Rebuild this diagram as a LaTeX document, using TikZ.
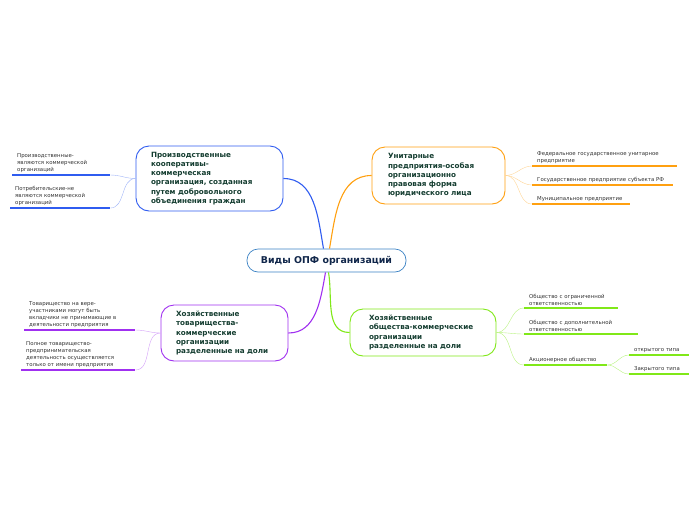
\documentclass[tikz,border=0pt]{standalone}
\usepackage{fontspec}
\setmainfont{DejaVu Sans}
\usetikzlibrary{positioning}
\definecolor{ctrcol}{HTML}{3B82C4}
\definecolor{bluecol}{HTML}{2F5CF0}
\definecolor{orcol}{HTML}{FFA010}
\definecolor{purcol}{HTML}{A030F0}
\definecolor{grcol}{HTML}{80E818}
\definecolor{boxtxt}{HTML}{143D30}
\definecolor{ctrtxt}{HTML}{10264A}
\definecolor{leaftxt}{HTML}{333333}
\begin{document}
\begin{tikzpicture}[x=1pt,y=1pt,
    box/.style={draw,line width=0.9pt,rounded corners=13pt,fill=white,align=left,
      font=\fontsize{7.2}{9.2}\selectfont\bfseries,text=boxtxt},
    ctrbox/.style={draw=ctrcol,line width=0.7pt,rounded corners=11pt,fill=white,
      minimum width=159pt,minimum height=23pt,font=\fontsize{9.4}{11}\selectfont\bfseries,text=ctrtxt},
    leaf/.style={anchor=south west,align=left,inner xsep=5pt,inner ysep=2pt,
      font=\fontsize{5.4}{6.9}\selectfont,text=leaftxt},
    link/.style={line width=1.1pt}]
  \useasboundingbox (0,0) rectangle (696,-520);
  % centre
  \node[ctrbox] (ctr) at (326.5,-260.5) {Виды ОПФ организаций};
  % main topics
  \node[box,draw=bluecol,minimum width=147pt,minimum height=65pt,text width=117pt,inner xsep=15pt]
    (koop) at (209.5,-178.5) {Производственные\\кооперативы-\\коммерческая\\организация, созданная\\путем добровольного\\объединения граждан};
  \node[box,draw=orcol,minimum width=133pt,minimum height=57pt,text width=101pt,inner xsep=16pt]
    (unit) at (438.5,-175.5) {Унитарные\\предприятия-особая\\организационно\\правовая форма\\юридического лица};
  \node[box,draw=purcol,minimum width=127pt,minimum height=56pt,text width=97pt,inner xsep=15pt]
    (tov) at (224.5,-333) {Хозяйственные\\товарищества-\\коммерческие\\организации\\разделенные на доли};
  \node[box,draw=grcol,minimum width=146pt,minimum height=47pt,text width=108pt,inner xsep=19pt]
    (obsch) at (423,-332.5) {Хозяйственные\\общества-коммерческие\\организации\\разделенные на доли};
  \draw[link,bluecol] (koop.east) to[out=0,in=100] ([xshift=-3pt]ctr.north);
  \draw[link,orcol] ([xshift=3pt]ctr.north) to[out=80,in=180] (unit.west);
  \draw[link,purcol] ([xshift=-1pt]ctr.south) to[out=-100,in=0] (tov.east);
  \draw[link,grcol] ([xshift=2pt]ctr.south) to[out=-80,in=180] (obsch.west);
  % cooperatives
  \node[leaf,text width=88pt] (proizv) at (12,-175) {Производственные-\\являются коммерческой\\организаций};
  \node[leaf,text width=90pt] (potreb) at (10,-208) {Потребительские-не\\являются коммерческой\\организаций};
  \foreach \n in {proizv,potreb} \draw[bluecol!45] (koop.west) to[out=180,in=0] (\n.south east);
  % unitary enterprises
  \node[leaf,text width=135pt] (feder) at (532,-166) {Федеральное государственное унитарное\\предприятие};
  \node[leaf,text width=131pt] (subj) at (532,-185) {Государственное предприятие субъекта РФ};
  \node[leaf,text width=88pt] (munic) at (532,-204) {Муниципальное предприятие};
  \foreach \n in {feder,subj,munic} \draw[orcol!45] (unit.east) to[out=0,in=180] (\n.south west);
  % partnerships
  \node[leaf,text width=101pt] (vera) at (24,-330) {Товарищество на вере-\\участниками могут быть\\вкладчики не принимающие в\\деятельности предприятия};
  \node[leaf,text width=104pt] (poln) at (21,-370) {Полное товарищество-\\предпринимательская\\деятельность осуществляется\\только от имени предприятия};
  \foreach \n in {vera,poln} \draw[purcol!45] (tov.west) to[out=180,in=0] (\n.south east);
  % companies
  \node[leaf,text width=84pt] (ooo) at (524,-308) {Общество с ограниченной\\ответственностью};
  \node[leaf,text width=104pt] (odo) at (524,-334) {Общество с дополнительной\\ответственностью};
  \node[leaf,text width=73pt] (ao) at (524,-365) {Акционерное общество};
  \foreach \n in {ooo,odo,ao} \draw[grcol!55] (obsch.east) to[out=0,in=180] (\n.south west);
  \node[leaf,text width=50pt] (otkr) at (629,-355) {открытого типа};
  \node[leaf,text width=50pt] (zakr) at (629,-374) {Закрытого типа};
  \foreach \n in {otkr,zakr} \draw[grcol!55] (ao.south east) to[out=0,in=180] (\n.south west);
  % underlines
  \foreach \n in {proizv,potreb} \draw[bluecol,line width=1.5pt] (\n.south west) -- (\n.south east);
  \foreach \n in {feder,subj,munic} \draw[orcol,line width=1.5pt] (\n.south west) -- (\n.south east);
  \foreach \n in {vera,poln} \draw[purcol,line width=1.5pt] (\n.south west) -- (\n.south east);
  \foreach \n in {ooo,odo,ao,otkr,zakr} \draw[grcol,line width=1.5pt] (\n.south west) -- (\n.south east);
\end{tikzpicture}
\end{document}
